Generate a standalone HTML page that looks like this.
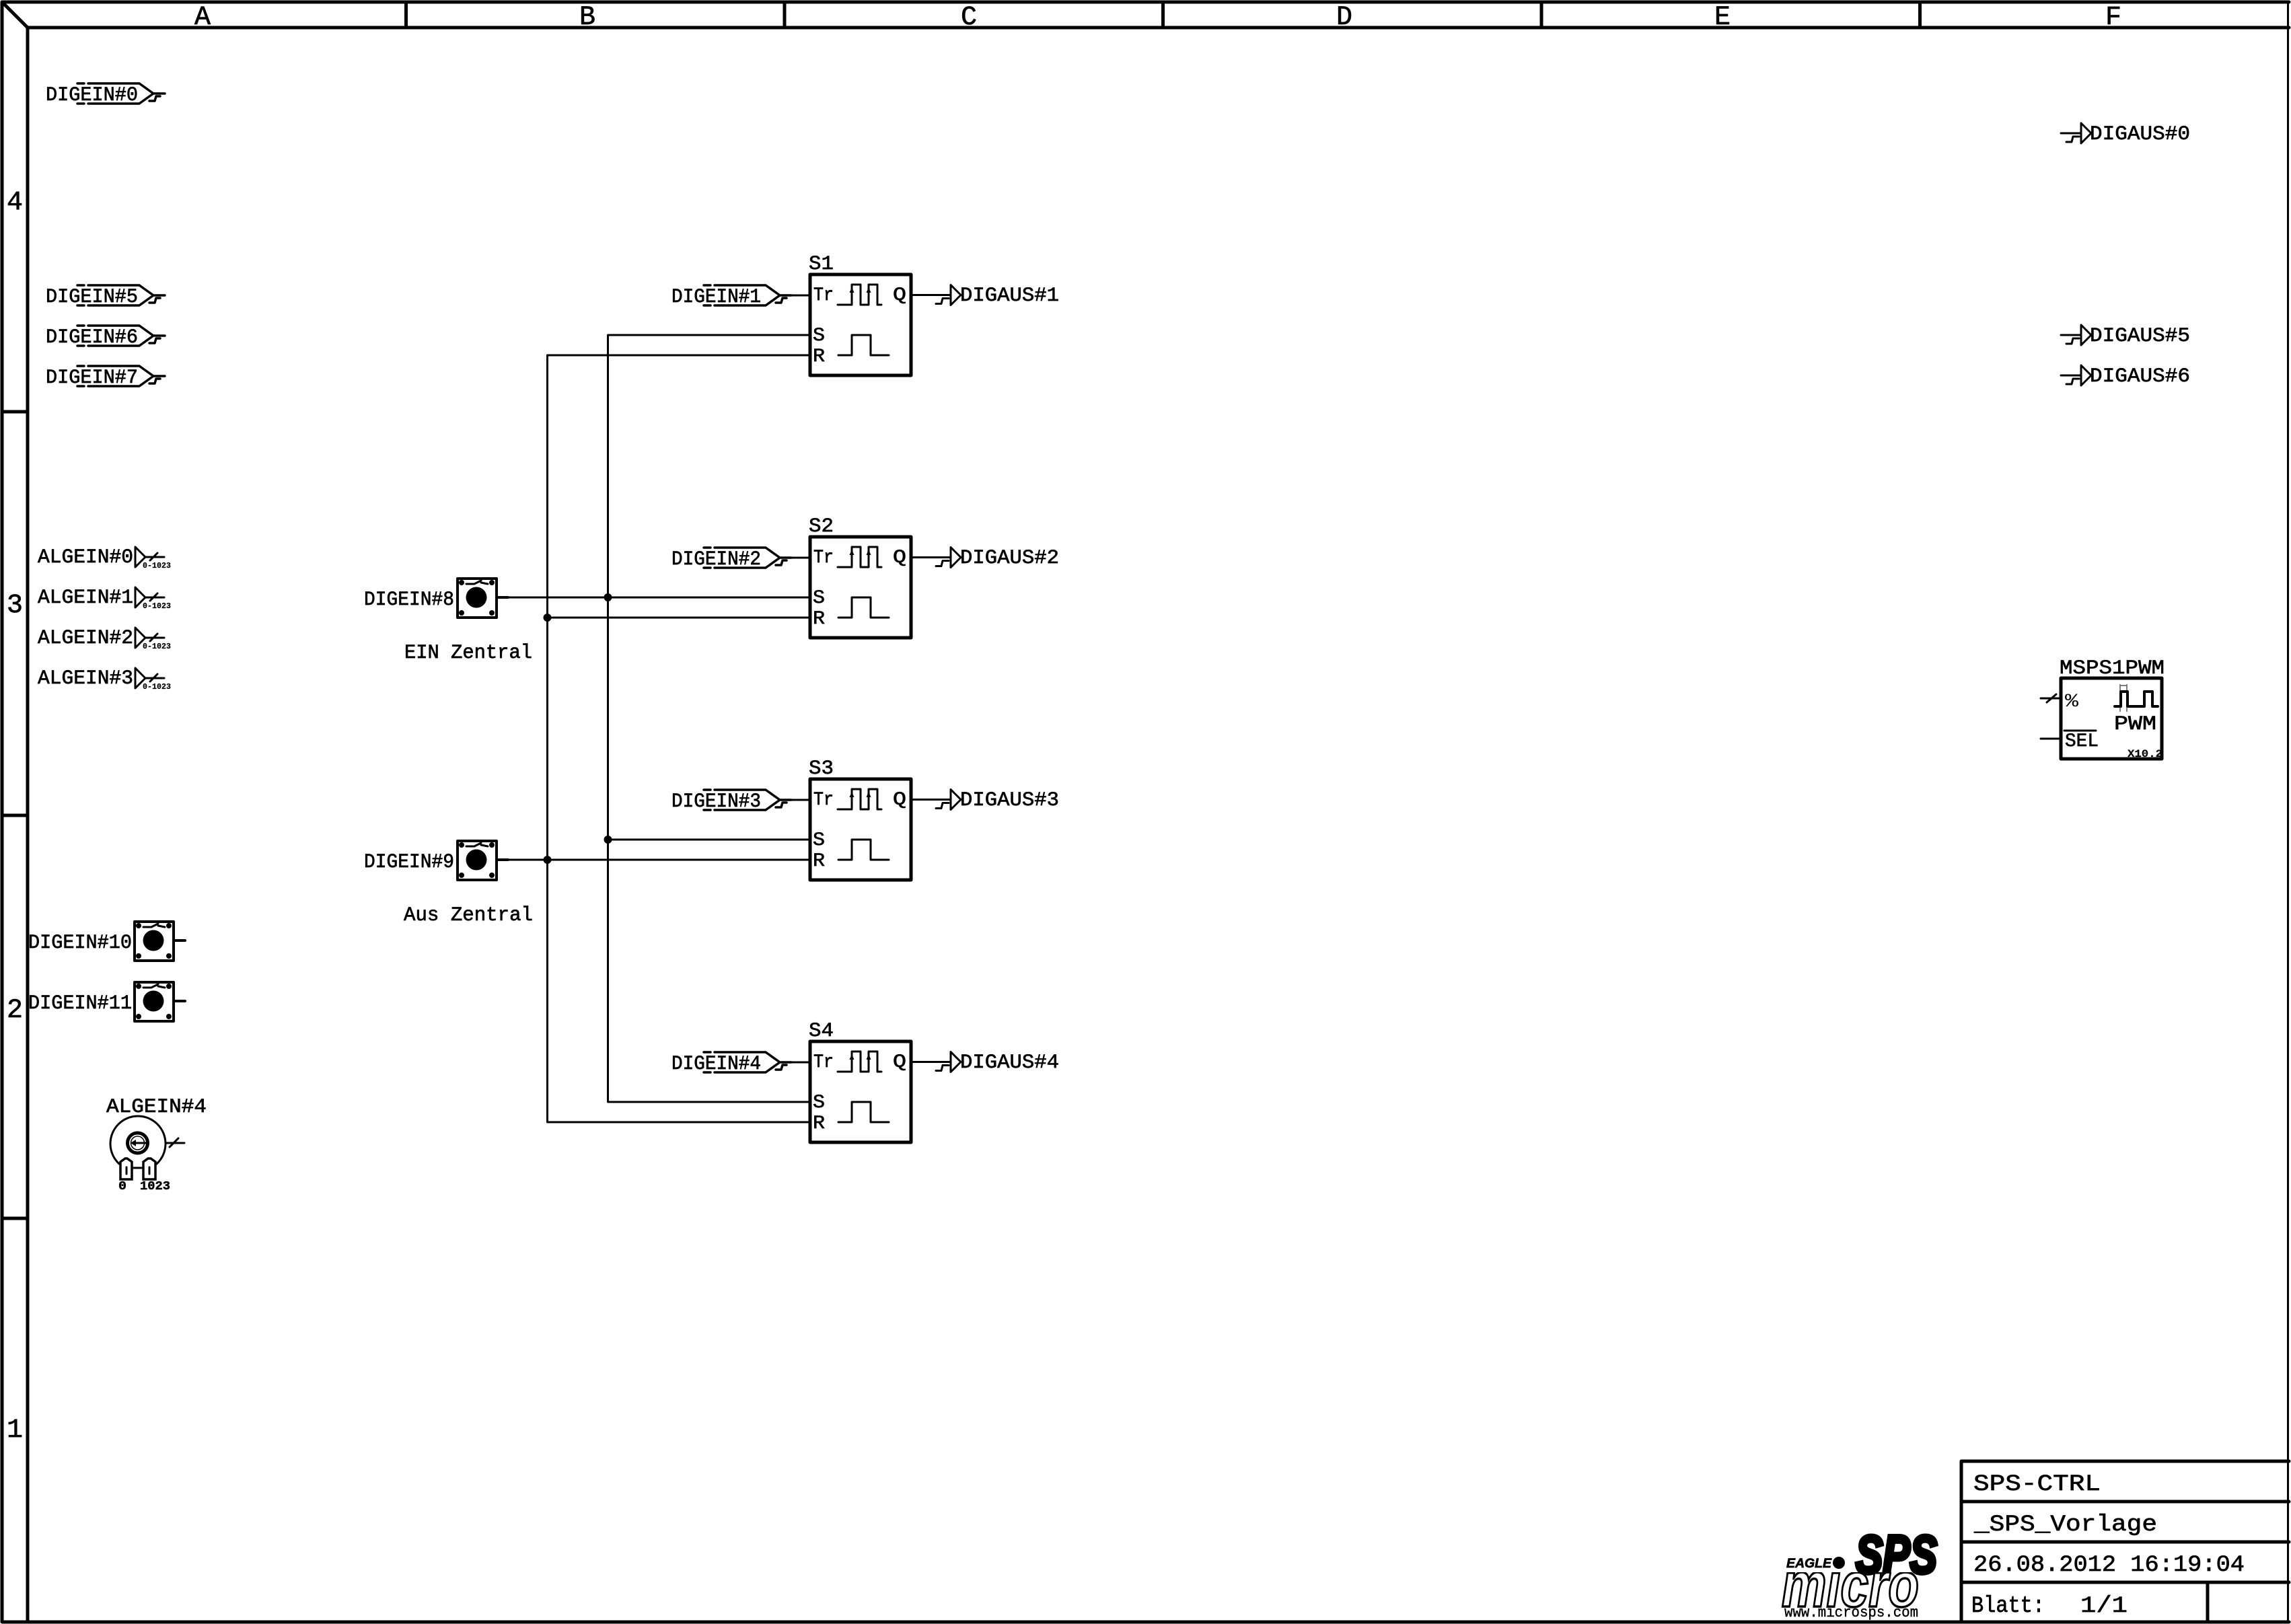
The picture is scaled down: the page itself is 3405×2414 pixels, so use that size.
<!DOCTYPE html>
<html lang="en"><head><meta charset="utf-8"><title>SPS-CTRL</title>
<style>
html,body{margin:0;padding:0;background:#fff;width:3405px;height:2414px;overflow:hidden}
svg{display:block}
text{font-family:"Liberation Mono",monospace;fill:#000;stroke:#000;stroke-width:.7px}
.f{font-size:30px}
.h{font-size:40px}
.t{font-size:34px}
.s{font-size:12px;font-weight:bold;stroke-width:.2px}
.l{fill:none;stroke:#000;stroke-width:3px;stroke-linecap:round;stroke-linejoin:round}
.b{fill:none;stroke:#000;stroke-width:5px;stroke-linecap:round;stroke-linejoin:round}
.d{fill:#000;stroke:none}
</style></head><body>
<svg xmlns="http://www.w3.org/2000/svg" width="3405" height="2414" viewBox="0 0 3405 2414">
<defs>
<g id="dei"><path class="l" d="M-113,-15H-103M-97,-15H-21L0,0L-21,15H-97M-103,15H-113M0,0H17M-6,11H2L4,4H10" style="stroke-width:3.5px"/></g>
<g id="dao"><path class="l" d="M-30,0H0M0,-15V15L15,0ZM-22,13H-14L-12,5H-3"/></g>
<g id="btn"><rect class="l" x="2" y="2" width="58" height="58" style="stroke-width:4px"/><circle class="d" cx="30" cy="30" r="15.5"/><circle class="d" cx="8" cy="8" r="4"/><circle class="d" cx="53" cy="8" r="4"/><circle class="d" cx="8" cy="53" r="4"/><circle class="d" cx="53" cy="53" r="4"/><path class="l" d="M15,10H27L37,5M37,8L47,10"/><path class="l" d="M60,30H77" style="stroke-width:4px"/></g>
<g id="ff"><rect class="b" x="0" y="0" width="150" height="150"/>
<path class="l" d="M41,45H62V15H75V45H87V15H100V45H106M42,120H62V90H90V120H117"/>
<path class="d" d="M62,19l-3.500,8h7zM87,19l-3.500,8h7z"/></g>
<g id="alg"><path class="l" d="M0,-15V15L15,0ZM15,0H43M22,5L33,-6"/></g>
<clipPath id="mc"><rect x="2630" y="2337" width="240" height="60"/></clipPath>
</defs>
<rect width="3405" height="2414" fill="#fff"/>

<!-- frame -->
<path class="b" d="M3,3H3402M3,3V2411M41,41H3402M41,41V2411M3,2411H3402M3,3L41,41M603.500,3V41M1166,3V41M1728.500,3V41M2291,3V41M2853.500,3V41M3,612H41M3,1212H41M3,1811H41"/>
<path class="l" d="M3400.500,3V2411"/>
<text class="h" x="289" y="36" textLength="24" lengthAdjust="spacingAndGlyphs">A</text>
<text class="h" x="861" y="36" textLength="24" lengthAdjust="spacingAndGlyphs">B</text>
<text class="h" x="1428" y="36" textLength="24" lengthAdjust="spacingAndGlyphs">C</text>
<text class="h" x="1986" y="36" textLength="24" lengthAdjust="spacingAndGlyphs">D</text>
<text class="h" x="2548" y="36" textLength="24" lengthAdjust="spacingAndGlyphs">E</text>
<text class="h" x="3129" y="36" textLength="24" lengthAdjust="spacingAndGlyphs">F</text>
<text class="h" x="10" y="311" textLength="24" lengthAdjust="spacingAndGlyphs">4</text>
<text class="h" x="10" y="910" textLength="24" lengthAdjust="spacingAndGlyphs">3</text>
<text class="h" x="10" y="1512" textLength="24" lengthAdjust="spacingAndGlyphs">2</text>
<text class="h" x="10" y="2136" textLength="24" lengthAdjust="spacingAndGlyphs">1</text>

<!-- left inputs -->
<use href="#dei" x="228" y="139"/><text class="f" x="68" y="149" textLength="137" lengthAdjust="spacingAndGlyphs">DIGEIN#0</text>
<use href="#dei" x="228" y="439"/><text class="f" x="68" y="449" textLength="137" lengthAdjust="spacingAndGlyphs">DIGEIN#5</text>
<use href="#dei" x="228" y="499"/><text class="f" x="68" y="509" textLength="137" lengthAdjust="spacingAndGlyphs">DIGEIN#6</text>
<use href="#dei" x="228" y="559"/><text class="f" x="68" y="569" textLength="137" lengthAdjust="spacingAndGlyphs">DIGEIN#7</text>

<use href="#alg" x="201" y="828"/><text class="f" x="56" y="836" textLength="142" lengthAdjust="spacingAndGlyphs">ALGEIN#0</text><text class="s" x="212" y="844" textLength="42" lengthAdjust="spacingAndGlyphs">0-1023</text>
<use href="#alg" x="201" y="888"/><text class="f" x="56" y="896" textLength="142" lengthAdjust="spacingAndGlyphs">ALGEIN#1</text><text class="s" x="212" y="904" textLength="42" lengthAdjust="spacingAndGlyphs">0-1023</text>
<use href="#alg" x="201" y="948"/><text class="f" x="56" y="956" textLength="142" lengthAdjust="spacingAndGlyphs">ALGEIN#2</text><text class="s" x="212" y="964" textLength="42" lengthAdjust="spacingAndGlyphs">0-1023</text>
<use href="#alg" x="201" y="1008"/><text class="f" x="56" y="1016" textLength="142" lengthAdjust="spacingAndGlyphs">ALGEIN#3</text><text class="s" x="212" y="1024" textLength="42" lengthAdjust="spacingAndGlyphs">0-1023</text>

<use href="#btn" x="198" y="1368"/><text class="f" x="42" y="1409" textLength="154" lengthAdjust="spacingAndGlyphs">DIGEIN#10</text>
<use href="#btn" x="198" y="1458"/><text class="f" x="42" y="1499" textLength="154" lengthAdjust="spacingAndGlyphs">DIGEIN#11</text>

<!-- potentiometer -->
<text class="f" x="158" y="1653" textLength="149" lengthAdjust="spacingAndGlyphs">ALGEIN#4</text>
<path class="l" d="M177,1730A41,41 0 1 1 233,1730M246,1699H274M252,1705L265,1692M196,1736H213M188,1735V1745M222,1735V1745"/>
<path class="l" d="M179,1753V1727L186,1722H189L196,1727V1753ZM213,1753V1727L220,1722H224L231,1727V1753Z" style="stroke-width:3.500px;stroke-linejoin:miter"/>
<circle cx="204.500" cy="1699" r="15" fill="none" stroke="#000" stroke-width="5"/>
<circle cx="204.500" cy="1699" r="10" fill="none" stroke="#000" stroke-width="1.500"/>
<path class="l" d="M197,1699H219"/><path class="d" d="M194,1699l8,-5v10z"/>
<text class="s" style="font-size:18px;stroke-width:.5px" x="176" y="1768" textLength="12" lengthAdjust="spacingAndGlyphs">0</text>
<text class="s" style="font-size:18px;stroke-width:.5px" x="208" y="1768" textLength="45" lengthAdjust="spacingAndGlyphs">1023</text>

<!-- central buttons -->
<use href="#btn" x="678" y="858"/><text class="f" x="541" y="899" textLength="134" lengthAdjust="spacingAndGlyphs">DIGEIN#8</text>
<text class="f" x="601" y="978" textLength="190" lengthAdjust="spacingAndGlyphs">EIN Zentral</text>
<use href="#btn" x="678" y="1248"/><text class="f" x="541" y="1289" textLength="134" lengthAdjust="spacingAndGlyphs">DIGEIN#9</text>
<text class="f" x="600" y="1368" textLength="192" lengthAdjust="spacingAndGlyphs">Aus Zentral</text>

<!-- wires -->
<path class="l" d="M813.500,528V1668M903.500,498V1638M813.500,528H1204M903.500,498H1204M740,888H1204M813.500,918H1204M903.500,1248H1204M740,1278H1204M903.500,1638H1204M813.500,1668H1204"/>
<circle class="d" cx="903.500" cy="888" r="6"/><circle class="d" cx="813.500" cy="918" r="6"/>
<circle class="d" cx="903.500" cy="1248" r="6"/><circle class="d" cx="813.500" cy="1278" r="6"/>

<!-- flip-flop S1 -->
<use href="#ff" x="1204" y="408"/><text class="f" x="1202" y="400" textLength="37" lengthAdjust="spacingAndGlyphs">S1</text>
<text class="f" style="font-size:28px" x="1209" y="446" textLength="30" lengthAdjust="spacingAndGlyphs">Tr</text><text class="f" style="font-size:28px" x="1327" y="446" textLength="20" lengthAdjust="spacingAndGlyphs">Q</text><text class="f" style="font-size:28px" x="1208" y="506" textLength="18" lengthAdjust="spacingAndGlyphs">S</text><text class="f" style="font-size:28px" x="1208" y="537" textLength="18" lengthAdjust="spacingAndGlyphs">R</text>
<use href="#dei" x="1159" y="439"/><path class="l" d="M1176,439H1204M1354,438.500H1413"/><text class="f" x="998" y="449" textLength="133" lengthAdjust="spacingAndGlyphs">DIGEIN#1</text>
<use href="#dao" x="1413" y="438.500"/><text class="f" x="1427" y="447" textLength="147" lengthAdjust="spacingAndGlyphs">DIGAUS#1</text>

<!-- flip-flop S2 -->
<use href="#ff" x="1204" y="798"/><text class="f" x="1202" y="790" textLength="37" lengthAdjust="spacingAndGlyphs">S2</text>
<text class="f" style="font-size:28px" x="1209" y="836" textLength="30" lengthAdjust="spacingAndGlyphs">Tr</text><text class="f" style="font-size:28px" x="1327" y="836" textLength="20" lengthAdjust="spacingAndGlyphs">Q</text><text class="f" style="font-size:28px" x="1208" y="896" textLength="18" lengthAdjust="spacingAndGlyphs">S</text><text class="f" style="font-size:28px" x="1208" y="927" textLength="18" lengthAdjust="spacingAndGlyphs">R</text>
<use href="#dei" x="1159" y="829"/><path class="l" d="M1176,829H1204M1354,828.500H1413"/><text class="f" x="998" y="839" textLength="133" lengthAdjust="spacingAndGlyphs">DIGEIN#2</text>
<use href="#dao" x="1413" y="828.500"/><text class="f" x="1427" y="837" textLength="147" lengthAdjust="spacingAndGlyphs">DIGAUS#2</text>

<!-- flip-flop S3 -->
<use href="#ff" x="1204" y="1158"/><text class="f" x="1202" y="1150" textLength="37" lengthAdjust="spacingAndGlyphs">S3</text>
<text class="f" style="font-size:28px" x="1209" y="1196" textLength="30" lengthAdjust="spacingAndGlyphs">Tr</text><text class="f" style="font-size:28px" x="1327" y="1196" textLength="20" lengthAdjust="spacingAndGlyphs">Q</text><text class="f" style="font-size:28px" x="1208" y="1256" textLength="18" lengthAdjust="spacingAndGlyphs">S</text><text class="f" style="font-size:28px" x="1208" y="1287" textLength="18" lengthAdjust="spacingAndGlyphs">R</text>
<use href="#dei" x="1159" y="1189"/><path class="l" d="M1176,1189H1204M1354,1188.500H1413"/><text class="f" x="998" y="1199" textLength="133" lengthAdjust="spacingAndGlyphs">DIGEIN#3</text>
<use href="#dao" x="1413" y="1188.500"/><text class="f" x="1427" y="1197" textLength="147" lengthAdjust="spacingAndGlyphs">DIGAUS#3</text>

<!-- flip-flop S4 -->
<use href="#ff" x="1204" y="1548"/><text class="f" x="1202" y="1540" textLength="37" lengthAdjust="spacingAndGlyphs">S4</text>
<text class="f" style="font-size:28px" x="1209" y="1586" textLength="30" lengthAdjust="spacingAndGlyphs">Tr</text><text class="f" style="font-size:28px" x="1327" y="1586" textLength="20" lengthAdjust="spacingAndGlyphs">Q</text><text class="f" style="font-size:28px" x="1208" y="1646" textLength="18" lengthAdjust="spacingAndGlyphs">S</text><text class="f" style="font-size:28px" x="1208" y="1677" textLength="18" lengthAdjust="spacingAndGlyphs">R</text>
<use href="#dei" x="1159" y="1579"/><path class="l" d="M1176,1579H1204M1354,1578.500H1413"/><text class="f" x="998" y="1589" textLength="133" lengthAdjust="spacingAndGlyphs">DIGEIN#4</text>
<use href="#dao" x="1413" y="1578.500"/><text class="f" x="1427" y="1587" textLength="147" lengthAdjust="spacingAndGlyphs">DIGAUS#4</text>

<!-- right outputs -->
<use href="#dao" x="3093" y="198"/><text class="f" x="3106" y="207" textLength="149" lengthAdjust="spacingAndGlyphs">DIGAUS#0</text>
<use href="#dao" x="3093" y="498"/><text class="f" x="3106" y="507" textLength="149" lengthAdjust="spacingAndGlyphs">DIGAUS#5</text>
<use href="#dao" x="3093" y="558"/><text class="f" x="3106" y="567" textLength="149" lengthAdjust="spacingAndGlyphs">DIGAUS#6</text>

<!-- PWM block -->
<rect class="b" x="3063" y="1008" width="150" height="120"/>
<text class="f" x="3061" y="1001" textLength="156" lengthAdjust="spacingAndGlyphs">MSPS1PWM</text>
<path class="l" d="M3033,1038H3063M3042,1044L3056,1032M3033,1098H3063M3068,1086H3115"/>
<text class="f" style="font-size:28px;stroke-width:0" x="3069" y="1050" textLength="20" lengthAdjust="spacingAndGlyphs">%</text>
<text class="f" style="font-size:28px" x="3069" y="1109" textLength="50" lengthAdjust="spacingAndGlyphs">SEL</text>
<text class="f" x="3142" y="1084" textLength="63" lengthAdjust="spacingAndGlyphs">PWM</text>
<path class="l" d="M3143,1050H3152V1028H3162V1050H3187V1028H3199V1050H3207" style="stroke-width:4px"/>
<path fill="none" stroke="#000" stroke-width="1" d="M3151,1017V1028M3161,1017V1028M3151,1050V1058M3161,1050V1058M3152,1019H3160"/>
<text class="s" style="font-size:16px" x="3162" y="1125" textLength="52" lengthAdjust="spacingAndGlyphs">X10.2</text>

<!-- title block -->
<path class="b" d="M2915,2172H3402M2915,2232H3402M2915,2292H3402M2915,2352H3402M2915,2172V2411M3281,2352V2411"/>
<text class="t" x="2933" y="2215" textLength="189" lengthAdjust="spacingAndGlyphs">SPS-CTRL</text>
<text class="t" x="2934" y="2275" textLength="272" lengthAdjust="spacingAndGlyphs">_SPS_Vorlage</text>
<text class="t" x="2933" y="2335" textLength="403" lengthAdjust="spacingAndGlyphs">26.08.2012 16:19:04</text>
<text class="t" x="2930" y="2396" textLength="109" lengthAdjust="spacingAndGlyphs">Blatt:</text>
<text class="t" x="3092" y="2396" textLength="70" lengthAdjust="spacingAndGlyphs">1/1</text>

<!-- logo -->
<text x="2758" y="2338" style="font-family:'Liberation Sans',sans-serif;font-weight:bold;font-style:italic;font-size:80px;stroke-width:6px" textLength="121" lengthAdjust="spacingAndGlyphs">SPS</text>
<text x="2655" y="2330" style="font-family:'Liberation Sans',sans-serif;font-weight:bold;font-style:italic;font-size:19px" textLength="67" lengthAdjust="spacingAndGlyphs">EAGLE</text>
<circle class="d" cx="2733" cy="2323" r="9"/>
<g clip-path="url(#mc)"><text x="2648" y="2388" style="font-family:'Liberation Sans',sans-serif;font-weight:bold;font-style:italic;font-size:95px;fill:#fff;stroke:#000;stroke-width:3.500px" textLength="204" lengthAdjust="spacingAndGlyphs">micro</text></g>
<text x="2652" y="2403" style="font-size:22px;stroke-width:.4px" textLength="199" lengthAdjust="spacingAndGlyphs">www.microsps.com</text>
</svg>
</body></html>
